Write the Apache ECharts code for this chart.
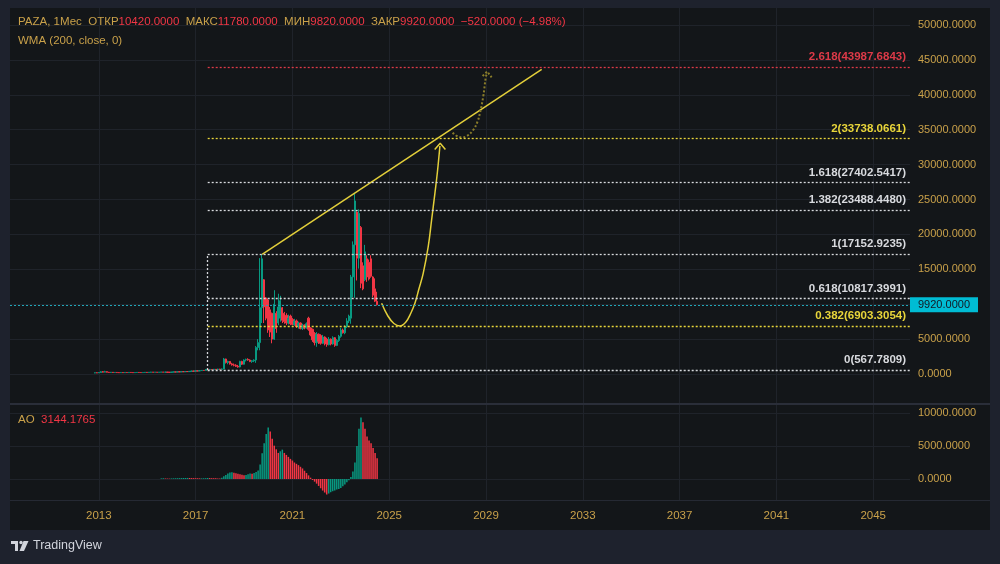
<!DOCTYPE html>
<html>
<head>
<meta charset="utf-8">
<title>PAZA, 1Мес</title>
<script src="https://cdn.jsdelivr.net/npm/echarts@6/dist/echarts.min.js"></script>
<style>
    html, body { margin: 0; padding: 0; background: #1e222d; }
    #chart { width: 1000px; height: 564px; }
</style>
</head>
<body>
<div id="chart"></div>
<script>
// месячные свечи PAZA: [open, close, low, high], первая свеча 2012-11
const candleStart = [2012, 11];
const candles = [
    // 2012
    [150,180,120,210],[180,160,130,220],
    // 2013
    [160,210,150,260],[210,330,200,400],[330,260,220,430],[260,340,240,460],[340,250,230,380],[250,220,200,300],
    [220,250,190,290],[250,210,180,280],[210,230,190,260],[230,200,170,250],[200,190,160,230],[190,210,170,240],
    // 2014
    [210,190,170,240],[190,220,180,250],[220,200,180,240],[200,230,190,260],[230,210,190,250],[210,190,170,230],
    [190,210,180,240],[210,230,200,260],[230,210,190,250],[210,200,180,240],[200,220,190,250],[220,240,210,270],
    // 2015
    [240,220,200,270],[220,250,210,280],[250,270,230,300],[270,250,230,290],[250,260,230,290],[260,240,220,280],
    [240,260,230,290],[260,280,250,310],[280,260,240,300],[260,270,240,300],[270,250,230,290],[250,240,220,270],
    // 2016
    [240,270,230,300],[270,300,260,340],[300,280,260,320],[280,320,270,360],[320,300,280,350],[300,340,290,380],
    [340,320,300,370],[320,360,310,400],[360,340,320,390],[340,380,330,420],[380,420,360,480],[420,400,370,460],
    // 2017
    [400,450,390,500],[450,430,400,480],[430,480,420,530],[480,520,460,560],[520,500,480,560],[500,650,490,700],
    [650,610,567.7809,720],[610,650,590,700],[650,620,600,690],[620,680,600,720],[680,640,610,700],[640,700,620,760],
    // 2018
    [700,660,630,740],[660,720,640,800],[720,2150,700,2300],[2150,1650,1500,2200],[1650,1800,1400,1900],[1800,1450,1350,1850],
    [1450,1300,1200,1600],[1300,1250,1100,1500],[1250,1100,1000,1400],[1100,1000,900,1300],[1000,1800,950,1900],[1800,1400,1300,1900],
    // 2019
    [1400,2000,1350,2100],[2000,2100,1800,2200],[2100,2000,1900,2250],[2000,1800,1700,2100],[1800,1900,1600,2000],[1900,2000,1700,2100],
    [2000,3800,1600,4000],[3800,4500,3400,5000],[4500,9500,3400,16600],[9500,16500,7300,17152.9235],[13500,9600,7300,13600],[10900,8000,7700,11000],
    // 2020
    [10600,6300,5900,10800],[9200,6000,5300,9600],[8700,5000,4400,8800],[5000,10000,4900,12000],[8700,6500,5900,9000],[7300,9600,7000,11500],
    [8000,10500,7500,11200],[9500,7700,7300,9600],[8700,7500,7200,8900],[8400,7300,7000,8700],[7300,8000,7100,8500],[8300,7200,7000,8500],
    // 2021
    [7800,7100,7000,8000],[7100,7600,6900,7900],[7600,6800,6600,7800],[6800,7300,6500,7500],[7300,6500,6400,7400],[6500,7000,6300,7200],
    [7000,6600,6400,7100],[6600,7200,6500,7400],[8000,6400,6200,8200],[6600,5600,5400,6700],[6400,4900,4600,6500],[5800,4500,4100,6000],
    // 2022
    [4500,5700,3900,6000],[5700,4700,4300,5800],[5500,4400,4200,5700],[4400,5300,4300,5600],[5300,4300,4100,5400],[5000,4200,3900,5200],
    [4200,5000,4100,5300],[5000,4300,4100,5100],[4300,5200,4200,5400],[5200,4100,3900,5300],[4100,4800,4000,5000],[4800,5400,4600,5600],
    // 2023
    [5400,6300,5200,6600],[6300,5900,5800,6500],[5900,6800,5700,7000],[6800,7600,6600,8000],[7600,8300,7300,8500],[8000,13900,7200,14200],
    [13900,18500,11000,19000],[18500,24800,10900,25950],[23200,16600,13400,23300],[16600,23000,15100,23600],[21000,13000,12300,21200],[15500,12200,12000,16000],
    // 2024
    [13500,17500,13300,18500],[16500,13900,13200,17000],[16000,13600,13400,16400],[16500,14000,13800,17000],[13900,11300,11000,14000],[12200,10440,10300,13700],
    [10420,9920,9820,11780]
];

// Awesome Oscillator, первый столбик 2015-08
const aoStart = [2015, 8];
const aoValues = [
    90,110,80,70,60,90,100,110,120,130,140,150,150,160,150,140,130,120,110,100,100,110,120,150,140,120,115,
    110,90,70,
    200,400,620,820,980,1020,
    960,880,800,720,640,560,
    620,720,820,780,
    900,1050,1300,2200,3900,5400,6800,7800,
    7200,6100,5050,4500,3950,4200,4450,
    3950,3650,3350,3050,2800,2500,2300,2100,1850,1600,1250,900,550,200,-150,-400,-700,-1050,-1400,-1750,-2050,-2350,
    -2200,-2000,-1850,-1750,-1600,-1500,-1350,-1100,-850,-500,-200,300,1150,2500,5000,7600,9300,
    8600,7600,6450,5850,5400,4700,3950,3144.1765
];

// уровни Фибоначчи (коррекция от 2017-07 до 2019-10)
const fibLevels = [0, 0.382, 0.618, 1, 1.382, 1.618, 2, 2.618];
const fibPrices = [567.7809, 6903.3054, 10817.3991, 17152.9235, 23488.4480, 27402.5417, 33738.0661, 43987.6843];
const fibFrom = [2017, 7];

// линия тренда по вершинам
const trendLine = [[2019.75, 17152.9235], [2031.30, 43650]];

// прогноз: сплошная кривая и её стрелка
const forecastPath = [
    [2024.686, 10129], [2024.946, 8310], [2025.194, 7235], [2025.442, 6877], [2025.690, 7450],
    [2025.897, 8739], [2026.062, 10129], [2026.227, 12178], [2026.405, 14427], [2026.612, 18238],
    [2026.752, 22064], [2026.888, 25889], [2026.992, 28941], [2027.095, 32666]
];
const forecastArrow = [[2026.880, 32164], [2027.107, 33053], [2027.322, 32164]];

// вторая (пунктирная) кривая и её стрелка
const altPath = [
    [2027.620, 34571], [2027.798, 34098], [2027.992, 33912], [2028.211, 34098], [2028.471, 34958],
    [2028.645, 36104], [2028.748, 37351], [2028.884, 39729], [2028.996, 42595], [2029.050, 43168]
];
const altArrow = [[2028.860, 42694], [2029.050, 43340], [2029.231, 42508]];

const lastPrice = 9920;
const lastAO = 3144.1765;

// стили
const FONT = 'Liberation Sans';
const GOLD = '#c9a14a';
const RED = '#f23645';
const GREEN = '#089981';
const YELLOW = '#e3cf3a';
const GRID = '#1f232a';
const PANE = '#131619';
const FRAME = '#1e222d';
const fibColors = ['#d8dade', '#e8d53a', '#d8dade', '#d8dade', '#d8dade', '#d8dade', '#e8d53a', '#dd3a48'];

const X_MIN = 2009, X_MAX = 2046.52, X_PANE = 2009.33;

// время в долях года для i-го месяца от start
function monthT(start, i) {
    return start[0] + ((start[1] - 1) + i) / 12;
}

document.addEventListener('DOMContentLoaded', function() {
    const chart = echarts.init(document.getElementById('chart'));

    const priceData = candles.map((c, i) => [monthT(candleStart, i), c[0], c[1], c[2], c[3]]);
    const aoData = aoValues.map((v, i) => ({
        value: [monthT(aoStart, i), v],
        itemStyle: { color: i > 0 && v < aoValues[i - 1] ? RED : GREEN }
    }));

    const fibStart = monthT(fibFrom, 0);
    const fibMarks = fibPrices.map((p, i) => [
        {
            coord: [fibStart, p],
            lineStyle: { color: fibColors[i] },
            label: { formatter: fibLevels[i] + '(' + p.toFixed(4) + ')', color: fibColors[i] }
        },
        { coord: [X_MAX, p] }
    ]);
    // левая граница сетки фибо (0 .. 1)
    fibMarks.push([
        { coord: [fibStart, fibPrices[0]], lineStyle: { color: fibColors[0] }, label: { show: false } },
        { coord: [fibStart, fibPrices[3]] }
    ]);

    // заголовок из последней свечи
    const last = candles[candles.length - 1];
    const prevClose = candles[candles.length - 2][1];
    const chg = last[1] - prevClose;
    const sign = chg < 0 ? '\u2212' : '+';
    const pct = Math.abs(chg / prevClose * 100).toFixed(2);
    const headerText =
        '{g|PAZA, 1Мес}  {g|ОТКР}{r|' + last[0].toFixed(4) + '}  {g|МАКС}{r|' + last[3].toFixed(4) +
        '}  {g|МИН}{r|' + last[2].toFixed(4) + '}  {g|ЗАКР}{r|' + last[1].toFixed(4) +
        '}  {r|' + sign + Math.abs(chg).toFixed(4) + ' (' + sign + pct + '%)}';
    const richText = {
        g: { fill: GOLD, fontSize: 11.5, fontFamily: FONT },
        r: { fill: RED, fontSize: 11.5, fontFamily: FONT }
    };

    const xCommon = { type: 'value', min: X_MIN, max: X_MAX, interval: 4 };
    const yLabel = { color: GOLD, fontSize: 11, fontFamily: FONT, margin: 8, formatter: v => v.toFixed(4) };

    const option = {
        backgroundColor: FRAME,
        animation: false,
        grid: [
            { left: 2, width: 908, top: 8, height: 492 },   // фон: вертикальная сетка и шкала времени
            { left: 2, width: 908, top: 25, height: 349 },  // цена
            { left: 2, width: 908, top: 413, height: 66 }   // AO
        ],
        xAxis: [
            Object.assign({}, xCommon, {
                gridIndex: 0,
                axisLine: { show: false },
                axisTick: { show: false },
                axisLabel: {
                    color: GOLD, fontSize: 11.5, fontFamily: FONT, margin: 10,
                    showMinLabel: false, showMaxLabel: false,
                    formatter: v => String(Math.round(v))
                },
                splitLine: { show: true, showMinLine: false, showMaxLine: false, lineStyle: { color: GRID } }
            }),
            Object.assign({}, xCommon, { gridIndex: 1, show: false }),
            Object.assign({}, xCommon, { gridIndex: 2, show: false })
        ],
        yAxis: [
            { gridIndex: 0, type: 'value', min: 0, max: 1, show: false },
            {
                gridIndex: 1, type: 'value', position: 'right', min: 0, max: 50000, interval: 5000,
                axisLine: { show: false }, axisTick: { show: false },
                axisLabel: yLabel,
                splitLine: { lineStyle: { color: GRID } }
            },
            {
                gridIndex: 2, type: 'value', position: 'right', min: 0, max: 10000, interval: 5000,
                axisLine: { show: false }, axisTick: { show: false },
                axisLabel: yLabel,
                splitLine: { lineStyle: { color: GRID } }
            }
        ],
        series: [
            {
                type: 'candlestick',
                xAxisIndex: 1, yAxisIndex: 1,
                data: priceData,
                encode: { x: 0, y: [1, 2, 3, 4] },
                barWidth: 1.8,
                itemStyle: { color: GREEN, color0: RED, borderColor: GREEN, borderColor0: RED, borderWidth: 1 },
                markLine: {
                    silent: true, symbol: ['none', 'none'],
                    lineStyle: { color: '#22a7b8', type: [2, 2], width: 1.2 },
                    label: {
                        position: 'end', distance: 0,
                        backgroundColor: '#00bcd4', color: '#131722',
                        fontSize: 11, fontFamily: FONT, padding: [2, 8, 2, 8],
                        formatter: lastPrice.toFixed(4)
                    },
                    data: [[{ coord: [X_PANE, lastPrice] }, { coord: [X_MAX, lastPrice] }]]
                }
            },
            {
                type: 'line',
                xAxisIndex: 1, yAxisIndex: 1, z: 4,
                data: trendLine,
                showSymbol: false, symbol: 'none',
                lineStyle: { color: YELLOW, width: 1.5 },
                markLine: {
                    silent: true, symbol: ['none', 'none'],
                    lineStyle: { type: [2, 2], width: 1.3 },
                    label: {
                        position: 'insideEndTop', distance: 4,
                        fontSize: 11.5, fontFamily: FONT, fontWeight: 'bold'
                    },
                    data: fibMarks
                }
            },
            {
                type: 'line',
                xAxisIndex: 1, yAxisIndex: 1, z: 4,
                data: forecastPath, smooth: 0.4,
                showSymbol: false, symbol: 'none',
                lineStyle: { color: YELLOW, width: 1.5 }
            },
            {
                type: 'line',
                xAxisIndex: 1, yAxisIndex: 1, z: 4,
                data: forecastArrow,
                showSymbol: false, symbol: 'none',
                lineStyle: { color: YELLOW, width: 1.5 }
            },
            {
                type: 'line',
                xAxisIndex: 1, yAxisIndex: 1, z: 4,
                data: altPath, smooth: 0.4,
                showSymbol: false, symbol: 'none',
                lineStyle: { color: '#8a7d2a', width: 2, type: [2, 2] }
            },
            {
                type: 'line',
                xAxisIndex: 1, yAxisIndex: 1, z: 4,
                data: altArrow,
                showSymbol: false, symbol: 'none',
                lineStyle: { color: '#8a7d2a', width: 2, type: [2, 2] }
            },
            {
                type: 'bar',
                xAxisIndex: 2, yAxisIndex: 2,
                data: aoData,
                barWidth: 1.5,
                clip: false,
                markLine: {
                    silent: true, symbol: ['none', 'none'],
                    lineStyle: { opacity: 0 },
                    label: {
                        position: 'end', distance: 0,
                        backgroundColor: RED, color: '#ffffff',
                        fontSize: 11, fontFamily: FONT, padding: [2, 8, 2, 8],
                        formatter: lastAO.toFixed(4)
                    },
                    data: [[{ coord: [X_PANE, lastAO] }, { coord: [X_MAX, lastAO] }]]
                }
            }
        ],
        graphic: [
            // фон панели
            { type: 'rect', silent: true, z: -10, shape: { x: 10, y: 8, width: 980, height: 522 }, style: { fill: PANE } },
            // разделители панелей
            { type: 'rect', silent: true, z: 1, shape: { x: 10, y: 403, width: 980, height: 2 }, style: { fill: '#2a2e39' } },
            { type: 'rect', silent: true, z: 1, shape: { x: 10, y: 500, width: 980, height: 1 }, style: { fill: '#252933' } },
            // рамка поверх
            { type: 'rect', silent: true, z: 100, shape: { x: 0, y: 0, width: 10, height: 564 }, style: { fill: FRAME } },
            { type: 'rect', silent: true, z: 100, shape: { x: 990, y: 0, width: 10, height: 564 }, style: { fill: FRAME } },
            { type: 'rect', silent: true, z: 100, shape: { x: 0, y: 0, width: 1000, height: 8 }, style: { fill: FRAME } },
            { type: 'rect', silent: true, z: 100, shape: { x: 0, y: 530, width: 1000, height: 34 }, style: { fill: FRAME } },
            // подписи
            {
                type: 'text', z: 101, x: 18, y: 16,
                style: { text: headerText, rich: richText, fontSize: 11.5, fontFamily: FONT, fill: GOLD }
            },
            {
                type: 'text', z: 101, x: 18, y: 35,
                style: { text: 'WMA (200, close, 0)', fontSize: 11.5, fontFamily: FONT, fill: GOLD }
            },
            {
                type: 'text', z: 101, x: 18, y: 414,
                style: { text: '{g|AO}  {r|' + lastAO.toFixed(4) + '}', rich: richText, fontSize: 11.5, fontFamily: FONT, fill: GOLD }
            },
            // логотип
            { type: 'rect', z: 101, shape: { x: 11, y: 541, width: 7, height: 3 }, style: { fill: '#d1d4dc' } },
            { type: 'rect', z: 101, shape: { x: 15, y: 541, width: 3, height: 10 }, style: { fill: '#d1d4dc' } },
            { type: 'circle', z: 101, shape: { cx: 21, cy: 542.5, r: 1.7 }, style: { fill: '#d1d4dc' } },
            { type: 'polygon', z: 101, shape: { points: [[23.5, 541], [28.5, 541], [24, 551], [19.5, 551]] }, style: { fill: '#d1d4dc' } },
            {
                type: 'text', z: 101, x: 33, y: 539,
                style: { text: 'TradingView', fontSize: 12.5, fontFamily: FONT, fill: '#d1d4dc' }
            }
        ]
    };

    chart.setOption(option);
});
</script>
</body>
</html>
